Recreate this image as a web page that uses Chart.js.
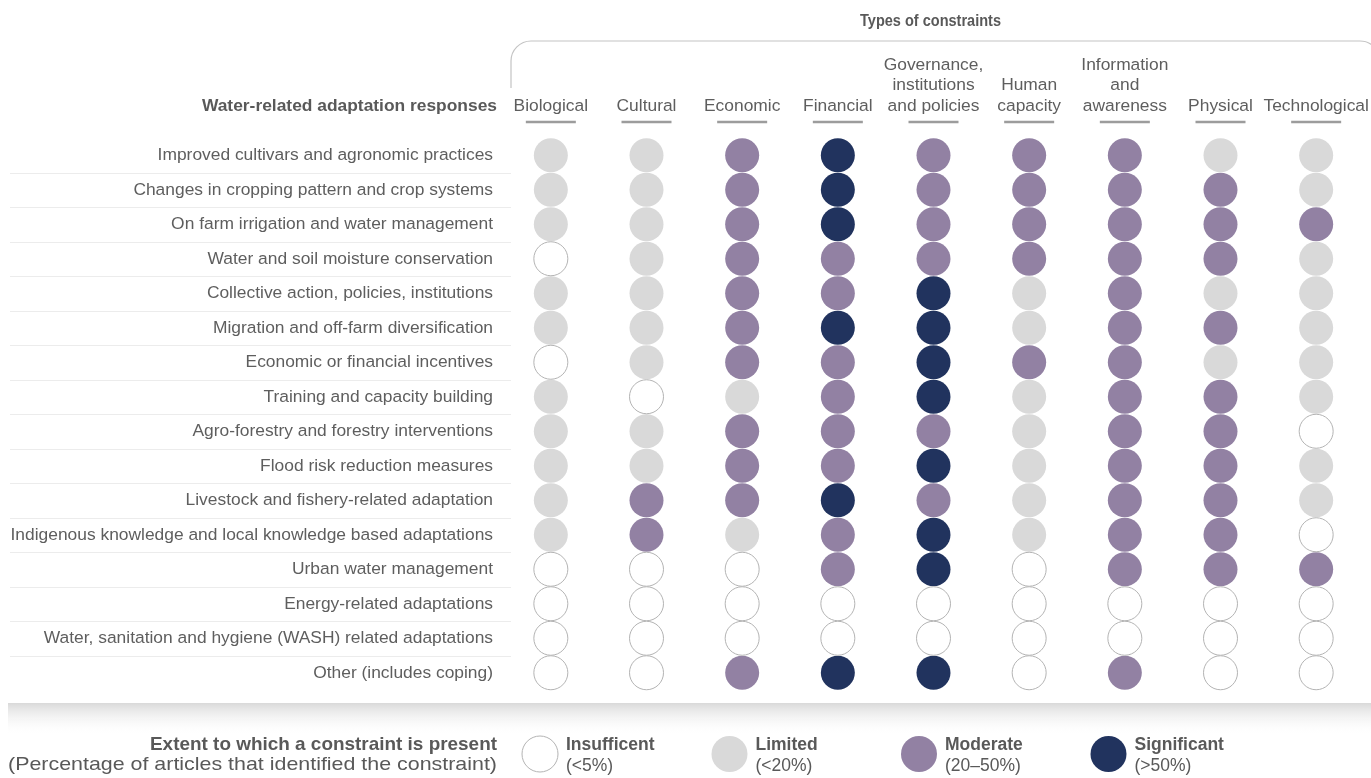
<!DOCTYPE html>
<html>
<head>
<meta charset="utf-8">
<script src="https://cdn.jsdelivr.net/npm/chart.js@4"></script>
<style>
  html, body { margin: 0; padding: 0; background: #fff; }
  canvas { display: block; }
</style>
</head>
<body>
<canvas id="matriz" width="1371" height="778"></canvas>
<script>
// Matriz de restrições x respostas de adaptação (água). Níveis: 0 insuficiente, 1 limitado, 2 moderado, 3 significativo.

const COLUNAS = ["Biological", "Cultural", "Economic", "Financial", "Governance, institutions and policies",
  "Human capacity", "Information and awareness", "Physical", "Technological"];
const COLUNAS_LINHAS = [["Biological"], ["Cultural"], ["Economic"], ["Financial"],
  ["Governance,", "institutions", "and policies"], ["Human", "capacity"], ["Information", "and", "awareness"],
  ["Physical"], ["Technological"]];

const RESPOSTAS = [
  "Improved cultivars and agronomic practices",
  "Changes in cropping pattern and crop systems",
  "On farm irrigation and water management",
  "Water and soil moisture conservation",
  "Collective action, policies, institutions",
  "Migration and off-farm diversification",
  "Economic or financial incentives",
  "Training and capacity building",
  "Agro-forestry and forestry interventions",
  "Flood risk reduction measures",
  "Livestock and fishery-related adaptation",
  "Indigenous knowledge and local knowledge based adaptations",
  "Urban water management",
  "Energy-related adaptations",
  "Water, sanitation and hygiene (WASH) related adaptations",
  "Other (includes coping)",
];

// uma linha por resposta, uma coluna por tipo de restrição
const NIVEIS = [
  [1, 1, 2, 3, 2, 2, 2, 1, 1],
  [1, 1, 2, 3, 2, 2, 2, 2, 1],
  [1, 1, 2, 3, 2, 2, 2, 2, 2],
  [0, 1, 2, 2, 2, 2, 2, 2, 1],
  [1, 1, 2, 2, 3, 1, 2, 1, 1],
  [1, 1, 2, 3, 3, 1, 2, 2, 1],
  [0, 1, 2, 2, 3, 2, 2, 1, 1],
  [1, 0, 1, 2, 3, 1, 2, 2, 1],
  [1, 1, 2, 2, 2, 1, 2, 2, 0],
  [1, 1, 2, 2, 3, 1, 2, 2, 1],
  [1, 2, 2, 3, 2, 1, 2, 2, 1],
  [1, 2, 1, 2, 3, 1, 2, 2, 0],
  [0, 0, 0, 2, 3, 0, 2, 2, 2],
  [0, 0, 0, 0, 0, 0, 0, 0, 0],
  [0, 0, 0, 0, 0, 0, 0, 0, 0],
  [0, 0, 2, 3, 3, 0, 2, 0, 0],
];

const NOMES_NIVEL = ["Insufficent", "Limited", "Moderate", "Significant"];
const FAIXAS_NIVEL = ["(<5%)", "(<20%)", "(20–50%)", "(>50%)"];
const COR_NIVEL = ["#ffffff", "#d9d9d9", "#9281a3", "#21335e"];
const BORDA_NIVEL = ["#b3b3b3", "#d9d9d9", "#9281a3", "#21335e"];

const FONTE = "'Liberation Sans', Arial, Helvetica, sans-serif";
const COR_TEXTO = "#5e5e5e";
const RAIO = 17;

const datasets = NOMES_NIVEL.map((nome, nivel) => ({
  label: nome,
  data: NIVEIS.flatMap((linha, r) => linha
    .map((v, c) => (v === nivel ? { x: COLUNAS[c], y: RESPOSTAS[r] } : null))
    .filter(Boolean)),
  backgroundColor: COR_NIVEL[nivel],
  borderColor: BORDA_NIVEL[nivel],
  borderWidth: nivel === 0 ? 1 : 0,
  pointRadius: RAIO,
  pointHoverRadius: RAIO,
  clip: false,
}));

// texto ajustado a uma largura (a fonte original é mais condensada)
function textoLargura(ctx, txt, x, y, largura, alinhar) {
  const w = ctx.measureText(txt).width;
  const sx = largura / w;
  ctx.save();
  ctx.translate(alinhar === "right" ? x - largura : x, y);
  ctx.scale(sx, 1);
  ctx.textAlign = "left";
  ctx.fillText(txt, 0, 0);
  ctx.restore();
}

// cabeçalhos, chave "Types of constraints", separadores e legenda
const decoracao = {
  id: "decoracao",
  afterDraw(chart) {
    const { ctx, chartArea: ca, scales: { x, y } } = chart;
    ctx.save();
    ctx.fillStyle = "#595959";
    ctx.textBaseline = "middle";

    ctx.font = `bold 16.5px ${FONTE}`;
    textoLargura(ctx, "Types of constraints", 860, 21, 141, "left");

    // chave arredondada por cima das colunas
    const r = 20, xe = ca.left + 8, topo = 41;
    ctx.strokeStyle = "#c4c4c4";
    ctx.lineWidth = 1.2;
    ctx.beginPath();
    ctx.moveTo(xe, 88);
    ctx.lineTo(xe, topo + r);
    ctx.arcTo(xe, topo, xe + r, topo, r);
    ctx.lineTo(chart.width - 12, topo);
    ctx.arcTo(chart.width + 9, topo, chart.width + 9, topo + r, r);
    ctx.stroke();

    ctx.font = `bold 17.4px ${FONTE}`;
    ctx.textAlign = "right";
    ctx.fillText("Water-related adaptation responses", ca.left - 6, 106);

    // traço sob cada cabeçalho de coluna
    ctx.strokeStyle = "#9c9c9c";
    ctx.lineWidth = 2.5;
    COLUNAS.forEach((_, i) => {
      const cx = x.getPixelForValue(i);
      ctx.beginPath();
      ctx.moveTo(cx - 25, 122);
      ctx.lineTo(cx + 25, 122);
      ctx.stroke();
    });

    // separadores entre linhas (só na área dos rótulos)
    ctx.strokeStyle = "#ececec";
    ctx.lineWidth = 1;
    for (let i = 0; i < RESPOSTAS.length - 1; i++) {
      const yy = Math.round((y.getPixelForValue(i) + y.getPixelForValue(i + 1)) / 2) + 0.5;
      ctx.beginPath();
      ctx.moveTo(10, yy);
      ctx.lineTo(ca.left + 8, yy);
      ctx.stroke();
    }

    // faixa cinza da legenda
    const yFaixa = ca.bottom + 13;
    const grad = ctx.createLinearGradient(0, yFaixa, 0, yFaixa + 32);
    grad.addColorStop(0, "#d9d9d9");
    grad.addColorStop(1, "rgba(255,255,255,0)");
    ctx.fillStyle = grad;
    ctx.fillRect(8, yFaixa, chart.width - 8, 32);

    const yLeg = yFaixa + 51;
    ctx.fillStyle = "#595959";
    ctx.font = `bold 18.5px ${FONTE}`;
    textoLargura(ctx, "Extent to which a constraint is present", ca.left - 6, yLeg - 9, 347, "right");
    ctx.font = `19px ${FONTE}`;
    textoLargura(ctx, "(Percentage of articles that identified the constraint)", ca.left - 6, yLeg + 11, 489, "right");

    NOMES_NIVEL.forEach((nome, i) => {
      const cx = ca.left + 37 + i * 189.5;
      ctx.beginPath();
      ctx.arc(cx, yLeg, 18, 0, Math.PI * 2);
      ctx.fillStyle = COR_NIVEL[i];
      ctx.fill();
      if (i === 0) {
        ctx.strokeStyle = BORDA_NIVEL[0];
        ctx.lineWidth = 1;
        ctx.stroke();
      }
      ctx.fillStyle = "#595959";
      ctx.textAlign = "left";
      ctx.font = `bold 17.5px ${FONTE}`;
      ctx.fillText(nome, cx + 26, yLeg - 9);
      ctx.font = `17.5px ${FONTE}`;
      ctx.fillText(FAIXAS_NIVEL[i], cx + 26, yLeg + 12);
    });
    ctx.restore();
  },
};

new Chart(document.getElementById("matriz"), {
  type: "scatter",
  data: { datasets },
  plugins: [decoracao],
  options: {
    responsive: false,
    animation: false,
    devicePixelRatio: 1,
    events: [],
    layout: { autoPadding: false, padding: { top: 0, left: 0, right: 7, bottom: 88 } },
    plugins: { legend: { display: false }, tooltip: { enabled: false } },
    scales: {
      x: {
        type: "category",
        position: "top",
        labels: COLUNAS,
        offset: true,
        grid: { display: false, drawTicks: false },
        border: { display: false },
        ticks: {
          autoSkip: false, maxRotation: 0, padding: 21, color: COR_TEXTO,
          font: { family: FONTE, size: 17.4 },
          callback: (v, i) => COLUNAS_LINHAS[i],
        },
        afterFit: (s) => { s.height = 138; s.paddingLeft = 0; s.paddingRight = 0; },
      },
      y: {
        type: "category",
        labels: RESPOSTAS,
        offset: true,
        grid: { display: false, drawTicks: false },
        border: { display: false },
        ticks: {
          autoSkip: false, padding: 10, color: COR_TEXTO,
          font: { family: FONTE, size: 17.4 },
        },
        afterFit: (s) => { s.width = 503; s.paddingTop = 0; s.paddingBottom = 0; },
      },
    },
  },
});
</script>
</body>
</html>
